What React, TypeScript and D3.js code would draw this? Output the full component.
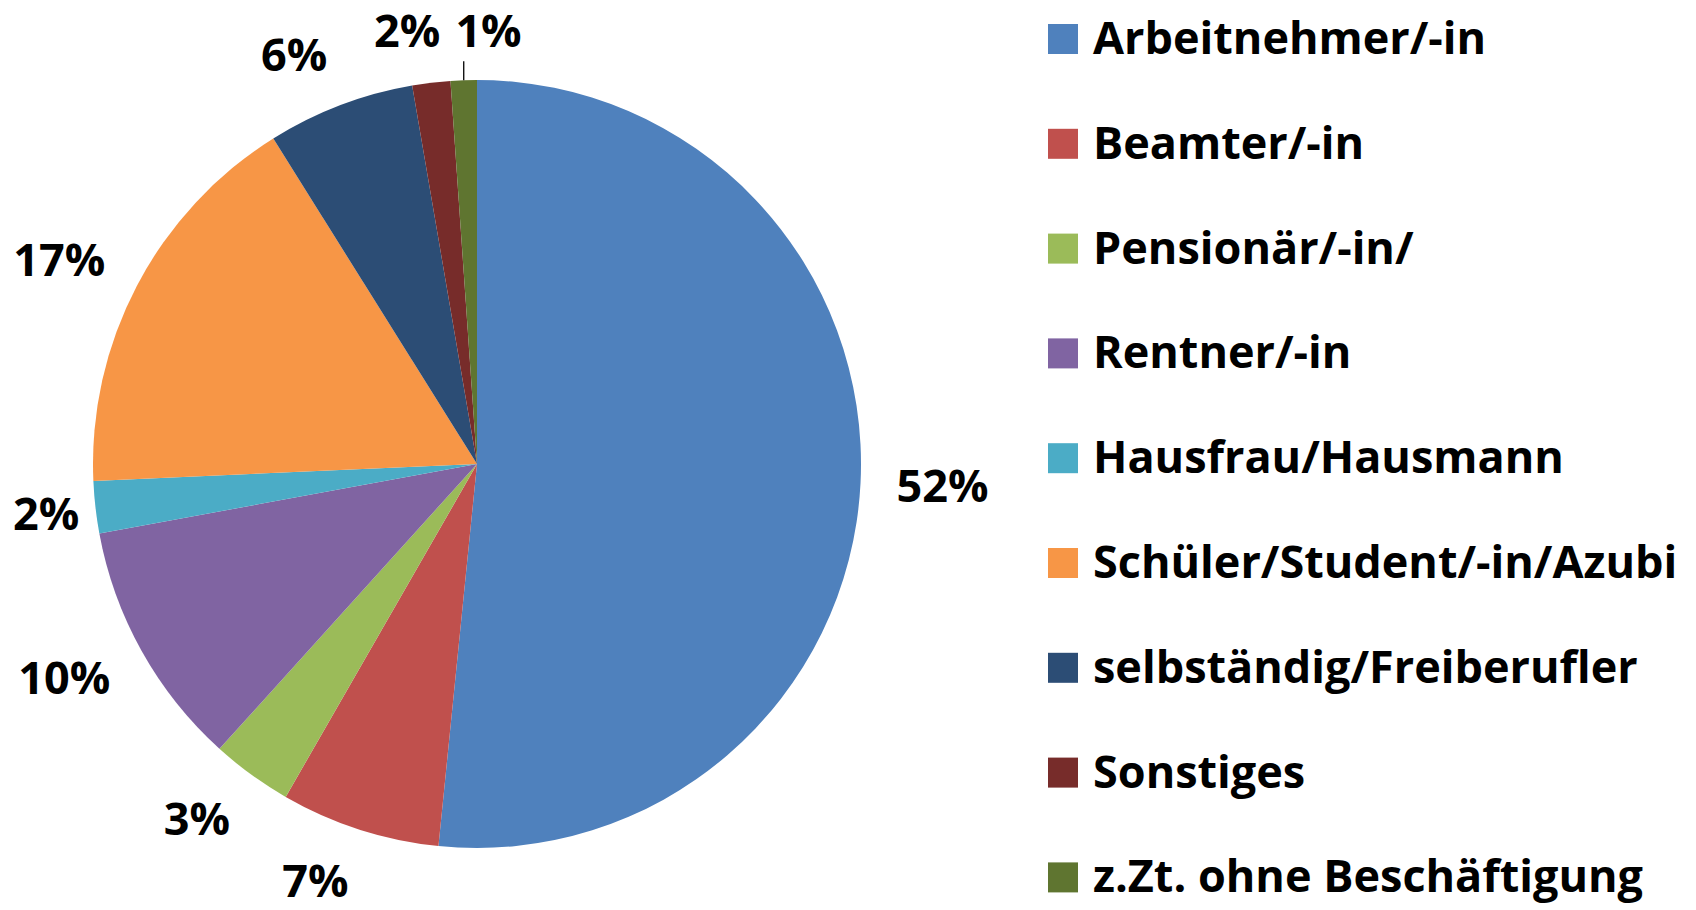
import React, { useEffect, useRef } from "react";
import * as d3 from "d3";

const categories = [
  "Arbeitnehmer/-in",
  "Beamter/-in",
  "Pensionär/-in/",
  "Rentner/-in",
  "Hausfrau/Hausmann",
  "Schüler/Student/-in/Azubi",
  "selbständig/Freiberufler",
  "Sonstiges",
  "z.Zt. ohne Beschäftigung",
];
const values = [51.6, 6.7, 3.4, 10.4, 2.2, 16.8, 6.2, 1.6, 1.1];
const percentLabels = ["52%", "7%", "3%", "10%", "2%", "17%", "6%", "2%", "1%"];
const colors = [
  "#4F81BD",
  "#C0504D",
  "#9BBB59",
  "#8064A2",
  "#4BACC6",
  "#F79646",
  "#2C4D75",
  "#772C2A",
  "#5F7530",
];

const W = 1696;
const H = 910;
const FONT = "'Open Sans', 'DejaVu Sans', sans-serif";

export default function App() {
  const ref = useRef<SVGSVGElement | null>(null);

  useEffect(() => {
    const svg = d3.select(ref.current);
    svg.selectAll("*").remove();

    const cx = 477;
    const cy = 464;
    const r = 384;
    const fontSize = 45;
    const capHalf = 16.2;

    const pie = d3
      .pie<number>()
      .sort(null)
      .value((d) => d)
      .startAngle(0)
      .endAngle(2 * Math.PI);
    const arcs = pie(values);
    const arcGen = d3.arc<d3.PieArcDatum<number>>().innerRadius(0).outerRadius(r);

    const g = svg.append("g").attr("transform", `translate(${cx},${cy})`);
    g.selectAll("path")
      .data(arcs)
      .join("path")
      .attr("d", arcGen as any)
      .attr("fill", (_d, i) => colors[i]);

    // data labels, "outside end"
    const gap = 36;
    const boxH = 36;
    const labelG = g.append("g");
    type L = { x: number; y: number; w: number; mid: number; moved: boolean };
    const labs: L[] = [];
    const texts: any[] = [];
    arcs.forEach((a, i) => {
      const mid = (a.startAngle + a.endAngle) / 2;
      const ux = Math.sin(mid);
      const uy = -Math.cos(mid);
      const t = labelG
        .append("text")
        .attr("font-family", FONT)
        .attr("font-weight", 700)
        .attr("font-size", fontSize)
        .attr("fill", "#000")
        .attr("text-anchor", "middle")
        .text(percentLabels[i]);
      texts.push(t);
      const w = (t.node() as SVGTextElement).getComputedTextLength();
      const sx = Math.max(-1, Math.min(1, ux * 5));
      let x = (r + gap) * ux + sx * (w / 2);
      let y = (r + gap) * uy + uy * (boxH / 2);
      // keep inside the chart area
      const minX = 13 - cx;
      if (x - w / 2 < minX) x = minX + w / 2;
      const minY = 15 + capHalf - cy;
      if (y < minY) y = minY;
      labs.push({ x, y, w, mid, moved: false });
    });
    // resolve overlaps: push later label to the right
    for (let k = 1; k < labs.length; k++) {
      const p = labs[k - 1];
      const c = labs[k];
      const overlapX = c.x - c.w / 2 < p.x + p.w / 2 + 10 && c.x + c.w / 2 > p.x - p.w / 2;
      const overlapY = Math.abs(c.y - p.y) < boxH;
      if (overlapX && overlapY) {
        c.x = p.x + p.w / 2 + 15 + c.w / 2;
        c.y = p.y;
        c.moved = true;
      }
    }
    labs.forEach((l, i) => {
      texts[i].attr("x", l.x).attr("y", l.y + capHalf);
    });

    labs
      .filter((l) => l.moved)
      .forEach((l) => {
        const ux = Math.sin(l.mid);
        const uy = -Math.cos(l.mid);
        g.append("line")
          .attr("x1", ux * r)
          .attr("y1", uy * r)
          .attr("x2", ux * r)
          .attr("y2", uy * (r + 19))
          .attr("stroke", "#000")
          .attr("stroke-width", 1.3);
      });

    // legend
    const lx = 1048;
    const ly0 = 39;
    const step = 104.8;
    const lg = svg.append("g");
    categories.forEach((c, i) => {
      const y = ly0 + i * step;
      lg.append("rect")
        .attr("x", lx)
        .attr("y", y - 15)
        .attr("width", 30)
        .attr("height", 30)
        .attr("fill", colors[i]);
      lg.append("text")
        .attr("x", lx + 45)
        .attr("y", y + 15)
        .attr("font-family", FONT)
        .attr("font-weight", 700)
        .attr("font-size", fontSize)
        .attr("fill", "#000")
        .text(c);
    });
  }, []);

  return (
    <svg
      ref={ref}
      width={W}
      height={H}
      style={{ position: "absolute", left: 0, top: 0, background: "#fff" }}
    />
  );
}
